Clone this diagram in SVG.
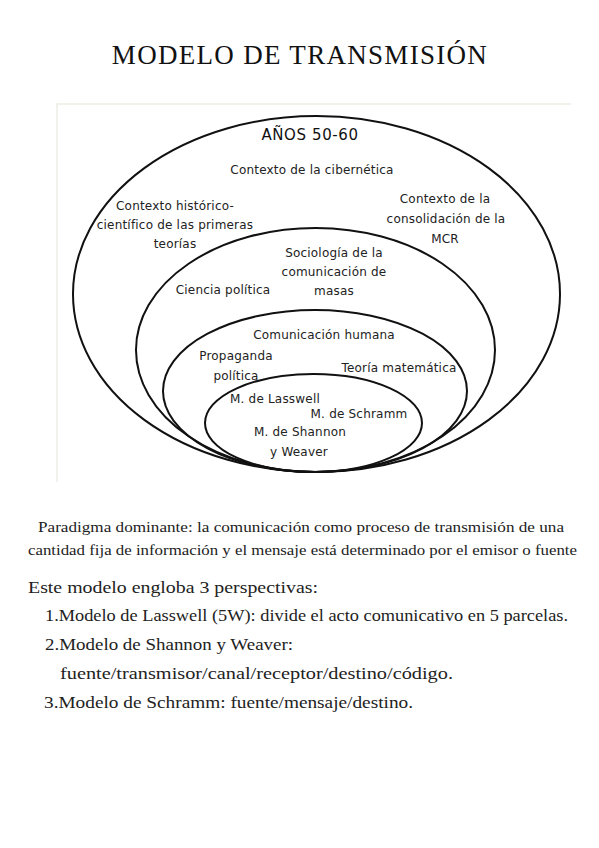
<svg xmlns="http://www.w3.org/2000/svg" width="599" height="848" viewBox="0 0 599 848">
<style>
.bg{fill:#ffffff}
.frame{stroke:#eeeee8;stroke-width:1.5;fill:none}
.ring{fill:none;stroke:#111;stroke-width:2}
.lbl{font-family:"DejaVu Sans","Verdana",sans-serif;font-size:12px;letter-spacing:0.2px;fill:#222;text-anchor:middle}
.era{font-family:"DejaVu Sans","Verdana",sans-serif;font-size:15px;letter-spacing:0.6px;fill:#111;text-anchor:middle}
.title{font-family:"Liberation Serif","Times New Roman",serif;font-size:27px;letter-spacing:1.3px;fill:#111;text-anchor:middle}
.para{font-family:"Liberation Serif","Times New Roman",serif;font-size:15px;fill:#222}
.list{font-family:"Liberation Serif","Times New Roman",serif;font-size:17px;fill:#222}
</style>
<rect class="bg" x="0" y="0" width="599" height="848"/>
<text class="title" x="300" y="64">MODELO DE TRANSMISIÓN</text>
<g id="figure">
<path class="frame" d="M57,482 V104 H571"/>
<g id="ring-outer">
<ellipse class="ring" cx="316.5" cy="294" rx="243.5" ry="178"/>
<text class="era" x="310" y="140">AÑOS 50-60</text>
<text class="lbl" x="312" y="174">Contexto de la cibernética</text>
<text class="lbl" x="175" y="210">Contexto histórico-</text>
<text class="lbl" x="175" y="229">científico de las primeras</text>
<text class="lbl" x="175" y="248">teorías</text>
<text class="lbl" x="445" y="203">Contexto de la</text>
<text class="lbl" x="446" y="223">consolidación de la</text>
<text class="lbl" x="445" y="243">MCR</text>
</g>
<g id="ring-2">
<ellipse class="ring" cx="315.5" cy="350" rx="179.5" ry="122"/>
<text class="lbl" x="334" y="257">Sociología de la</text>
<text class="lbl" x="334" y="276">comunicación de</text>
<text class="lbl" x="334" y="295">masas</text>
<text class="lbl" x="223" y="294">Ciencia política</text>
</g>
<g id="ring-3">
<ellipse class="ring" cx="315" cy="391" rx="152" ry="81"/>
<text class="lbl" x="324" y="339">Comunicación humana</text>
<text class="lbl" x="236" y="360">Propaganda</text>
<text class="lbl" x="236" y="380">política</text>
<text class="lbl" x="399" y="372">Teoría matemática</text>
</g>
<g id="ring-inner">
<ellipse class="ring" cx="313.5" cy="423" rx="108.5" ry="49"/>
<text class="lbl" x="275" y="403">M. de Lasswell</text>
<text class="lbl" x="359" y="418">M. de Schramm</text>
<text class="lbl" x="300" y="436">M. de Shannon</text>
<text class="lbl" x="299" y="456">y Weaver</text>
</g>
</g>
<g id="connectors"/>
<g id="paragraph">
<text class="para" x="38" y="532" textLength="526" lengthAdjust="spacingAndGlyphs">Paradigma dominante: la comunicación como proceso de transmisión de una</text>
<text class="para" x="28" y="555" textLength="549" lengthAdjust="spacingAndGlyphs">cantidad fija de información y el mensaje está determinado por el emisor o fuente</text>
</g>
<g id="list">
<text class="list" x="28" y="593" textLength="290" lengthAdjust="spacingAndGlyphs">Este modelo engloba 3 perspectivas:</text>
<text class="list" x="45" y="621" textLength="523" lengthAdjust="spacingAndGlyphs">1.Modelo de Lasswell (5W): divide el acto comunicativo en 5 parcelas.</text>
<text class="list" x="45" y="650" textLength="248" lengthAdjust="spacingAndGlyphs">2.Modelo de Shannon y Weaver:</text>
<text class="list" x="60" y="679" textLength="393" lengthAdjust="spacingAndGlyphs">fuente/transmisor/canal/receptor/destino/código.</text>
<text class="list" x="44" y="708" textLength="369" lengthAdjust="spacingAndGlyphs">3.Modelo de Schramm: fuente/mensaje/destino.</text>
</g>
</svg>
